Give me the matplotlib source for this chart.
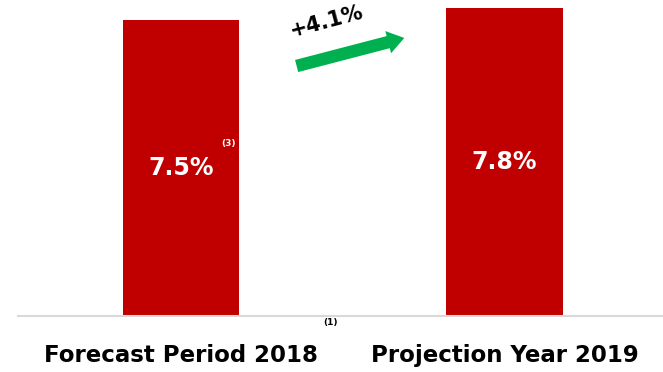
import matplotlib
matplotlib.use("Agg")
from matplotlib import pyplot as plt

# values shown on the bars
categories = ["Forecast Period 2018", "Projection Year 2019"]
values = [7.5, 7.8]
value_labels = ["7.5%", "7.8%"]
growth_label = "+4.1%"

red = "#C00000"
green = "#00B050"

fig = plt.figure(figsize=(6.63, 3.72), dpi=100)
ax = fig.add_axes([0.027, 0.15, 0.973, 0.85])

x = [0, 1]
ax.bar(x, values, width=0.36, color=red, zorder=2)
ax.set_xlim(-0.505, 1.49)
ax.set_ylim(0, 8.0)

# only the gray baseline is kept
for side in ["top", "right", "left"]:
    ax.spines[side].set_visible(False)
ax.spines["bottom"].set_color("#D9D9D9")
ax.spines["bottom"].set_linewidth(1.5)
ax.set_yticks([])
ax.set_xticks(x)
ax.set_xticklabels(categories, fontsize=16.5, fontweight="bold",
                   family="DejaVu Sans Condensed")
ax.tick_params(axis="x", length=0, pad=20)

# value labels inside the bars
for xi, v, lab in zip(x, values, value_labels):
    ax.text(xi, v * 0.5, lab, ha="center", va="center", color="white",
            fontsize=17, fontweight="bold", family="DejaVu Sans Condensed")

# footnote markers
ax.text(0.145, 4.38, "(3)", color="white", fontsize=6.5, fontweight="bold",
        ha="center", va="center", family="DejaVu Sans Condensed")
fig.text(0.498, 0.133, "(1)", color="black", fontsize=6.5, fontweight="bold",
         ha="center", va="center", family="DejaVu Sans Condensed")

# growth arrow between the bars
ax.annotate("", xy=(0.69, 7.04), xytext=(0.357, 6.33),
            arrowprops=dict(arrowstyle="simple,head_width=1.1,head_length=0.8,tail_width=0.6",
                            color=green, lw=0, mutation_scale=15,
                            shrinkA=0, shrinkB=0),
            annotation_clip=False)
ax.text(0.45, 7.45, growth_label, rotation=15, ha="center", va="center",
        fontsize=15, fontweight="bold", family="DejaVu Sans Condensed")

fig.savefig("out.png", dpi=100, facecolor="white")
